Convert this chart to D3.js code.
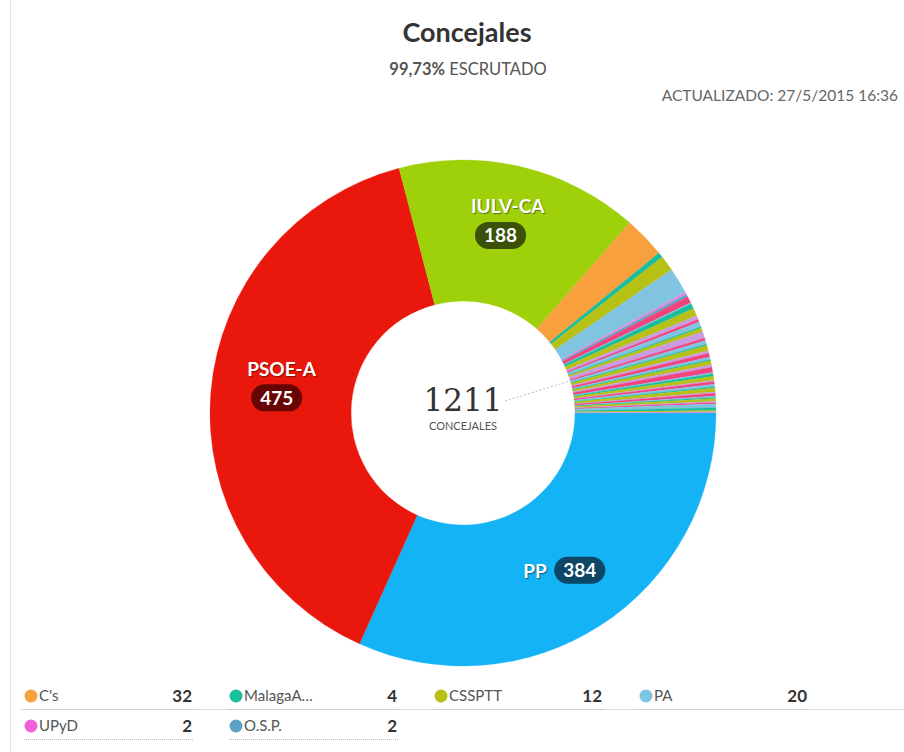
<!DOCTYPE html>
<html>
<head>
<meta charset="utf-8">
<script src="https://cdn.jsdelivr.net/npm/d3@7"></script>
<style>
  body { margin: 0; background: #fff; font-family: "Source Sans Pro", Lato, "Open Sans", sans-serif; }
  .lbl { fill: #fff; font-weight: bold; font-size: 19px; text-shadow: 1px 1px 1px rgba(0,0,0,0.45); }
  .badge-text { fill: #fff; font-weight: bold; font-size: 19px; }
</style>
</head>
<body>
<svg id="chart" width="904" height="752"></svg>
<script>
// data
const partidos = ["PP", "PSOE-A", "IULV-CA", "C's", "MalagaAhora", "CSSPTT", "PA", "UPyD", "O.S.P."];
const concejales = [384, 475, 188, 32, 4, 12, 20, 2, 2];
const colores = ["#13b3f5", "#ea180c", "#9fd10b", "#f8a03e", "#19bf9d", "#b7c015", "#80c4e2", "#e28ad8", "#5ba3c4"];
const badgeColores = ["#0c4766", "#660504", "#3b5008", null, null, null, null, null, null];

// resto de partidos pequeños (no salen en la leyenda)
const otrosNombres = ["AxSí", "PIVG", "GIPA", "ACIJA", "IxV", "PSPV", "UPA", "AIPB", "PIJ", "CDL",
  "IPAL", "AGI", "PVRG", "IUCA", "APM", "PID", "AIR", "GIAL", "UPM", "IPMA",
  "AIVS", "CIU", "PAI", "PVA", "IVAB", "LVA", "UCIN", "GIBA", "PPRI", "ACDS",
  "VIDA", "AV", "PLV", "UPL", "IGR", "PIA", "PUEB", "ALTER", "IND", "AM"];
const otrosConcejales = [5, 1, 4, 6, 3, 2, 4, 1, 3, 5, 2, 3, 1, 4, 2, 3, 2, 1, 3, 2,
  4, 1, 2, 3, 1, 2, 2, 1, 3, 1, 2, 1, 1, 2, 1, 1, 3, 2, 1, 1];
const otrosColores = ["#f2437f", "#80c4e2", "#19bf9d", "#b7c015", "#c99be0"];

const total = 1211;
const titulo = "Concejales";
const escrutado = "99,73%";
const actualizado = "ACTUALIZADO: 27/5/2015 16:36";

// legend items
const leyendaNombres = ["C's", "MalagaAhora", "CSSPTT", "PA", "UPyD", "O.S.P."];
const leyendaValores = [32, 4, 12, 20, 2, 2];
const leyendaColores = ["#f8a03e", "#19bf9d", "#b7c015", "#80c4e2", "#f25fd6", "#5ba3c4"];

const svg = d3.select("#chart");

// borde izquierdo
svg.append("line").attr("x1", 10.5).attr("x2", 10.5).attr("y1", 0).attr("y2", 752)
  .attr("stroke", "#e4e4e4");

svg.append("text")
  .attr("x", 467).attr("y", 42)
  .attr("text-anchor", "middle")
  .attr("font-size", 27).attr("font-weight", "bold").attr("fill", "#333")
  .text(titulo);

const sub = svg.append("text")
  .attr("x", 468).attr("y", 75)
  .attr("text-anchor", "middle")
  .attr("font-size", 16.5).attr("fill", "#555");
sub.append("tspan").attr("font-weight", "bold").text(escrutado);
sub.append("tspan").text(" ESCRUTADO");

svg.append("text")
  .attr("x", 898).attr("y", 101)
  .attr("text-anchor", "end")
  .attr("font-size", 15.5).attr("fill", "#666")
  .text(actualizado);

// build slices
const slices = [];
partidos.forEach((p, i) => slices.push({ nombre: p, valor: concejales[i], color: colores[i], badge: badgeColores[i] }));
otrosNombres.forEach((p, i) => slices.push({ nombre: p, valor: otrosConcejales[i], color: otrosColores[i % otrosColores.length], badge: null }));

const cx = 463, cy = 413;
const outer = 253, inner = 112;

const pie = d3.pie().sort(null).value(d => d.valor)
  .startAngle(Math.PI / 2).endAngle(Math.PI / 2 + 2 * Math.PI);
const arc = d3.arc().innerRadius(inner).outerRadius(outer);
const arcMid = d3.arc().innerRadius((inner + outer) / 2).outerRadius((inner + outer) / 2);

const g = svg.append("g").attr("transform", `translate(${cx},${cy})`);
const arcs = pie(slices);

g.selectAll("path.slice")
  .data(arcs)
  .join("path")
  .attr("class", "slice")
  .attr("d", arc)
  .attr("fill", d => d.data.color)
  .attr("stroke", d => d.data.color)
  .attr("stroke-width", 0.3);

// leader line from center
g.append("line")
  .attr("x1", 42).attr("y1", -12).attr("x2", 110).attr("y2", -33)
  .attr("stroke", "#bbb").attr("stroke-dasharray", "2,2");

g.append("text")
  .attr("x", 0).attr("y", -2)
  .attr("text-anchor", "middle")
  .attr("font-family", "'DejaVu Serif', 'Liberation Serif', serif")
  .attr("font-size", 31).attr("fill", "#333")
  .text(total);
g.append("text")
  .attr("x", 0).attr("y", 17)
  .attr("text-anchor", "middle")
  .attr("font-size", 11).attr("fill", "#555")
  .text("CONCEJALES");

// etiquetas grandes
arcs.filter(d => d.data.badge).forEach(d => {
  const [mx, my] = arcMid.centroid(d);
  const lg = g.append("g");
  const inline = d.data.nombre.length <= 2;
  let nameX, nameY, bx, by;
  if (inline) {
    nameX = mx - 39; nameY = my + 12;
    bx = nameX + 31; by = my + 4;
  } else {
    nameX = mx - 34; nameY = my - 22;
    bx = mx - 30; by = my;
  }
  lg.append("text").attr("class", "lbl")
    .attr("x", nameX).attr("y", nameY).text(d.data.nombre);
  const num = String(d.data.valor);
  const tmp = lg.append("text").attr("class", "badge-text").attr("x", 0).attr("y", 0).text(num);
  const w = tmp.node().getComputedTextLength();
  tmp.remove();
  const bw = w + 18, bh = 27;
  lg.append("rect")
    .attr("x", bx).attr("y", by - bh / 2)
    .attr("width", bw).attr("height", bh)
    .attr("rx", bh / 2)
    .attr("fill", d.data.badge);
  lg.append("text").attr("class", "badge-text")
    .attr("x", bx + bw / 2).attr("y", by + 7)
    .attr("text-anchor", "middle")
    .text(num);
});

// leyenda
const colW = 205;
svg.append("line").attr("x1", 20).attr("x2", 904).attr("y1", 709.5).attr("y2", 709.5)
  .attr("stroke", "#ddd");

const items = svg.selectAll("g.leg")
  .data(leyendaNombres)
  .join("g")
  .attr("class", "leg")
  .attr("transform", (d, i) => `translate(${24 + (i % 4) * colW},${696 + Math.floor(i / 4) * 30})`);

items.append("circle").attr("cx", 7).attr("cy", 0).attr("r", 6.5)
  .attr("fill", (d, i) => leyendaColores[i]);
items.append("text").attr("x", 15).attr("y", 5)
  .attr("font-size", 15).attr("fill", "#555")
  .text(d => d.length > 8 ? d.slice(0, 7) + "…" : d);
items.append("text").attr("x", 168).attr("y", 6)
  .attr("text-anchor", "end")
  .attr("font-size", 17).attr("font-weight", "bold").attr("fill", "#333")
  .text((d, i) => leyendaValores[i]);
items.append("line").attr("x1", 0).attr("x2", 170).attr("y1", 13.5).attr("y2", 13.5)
  .attr("stroke", "#bbb").attr("stroke-dasharray", "1,1");
</script>
</body>
</html>
